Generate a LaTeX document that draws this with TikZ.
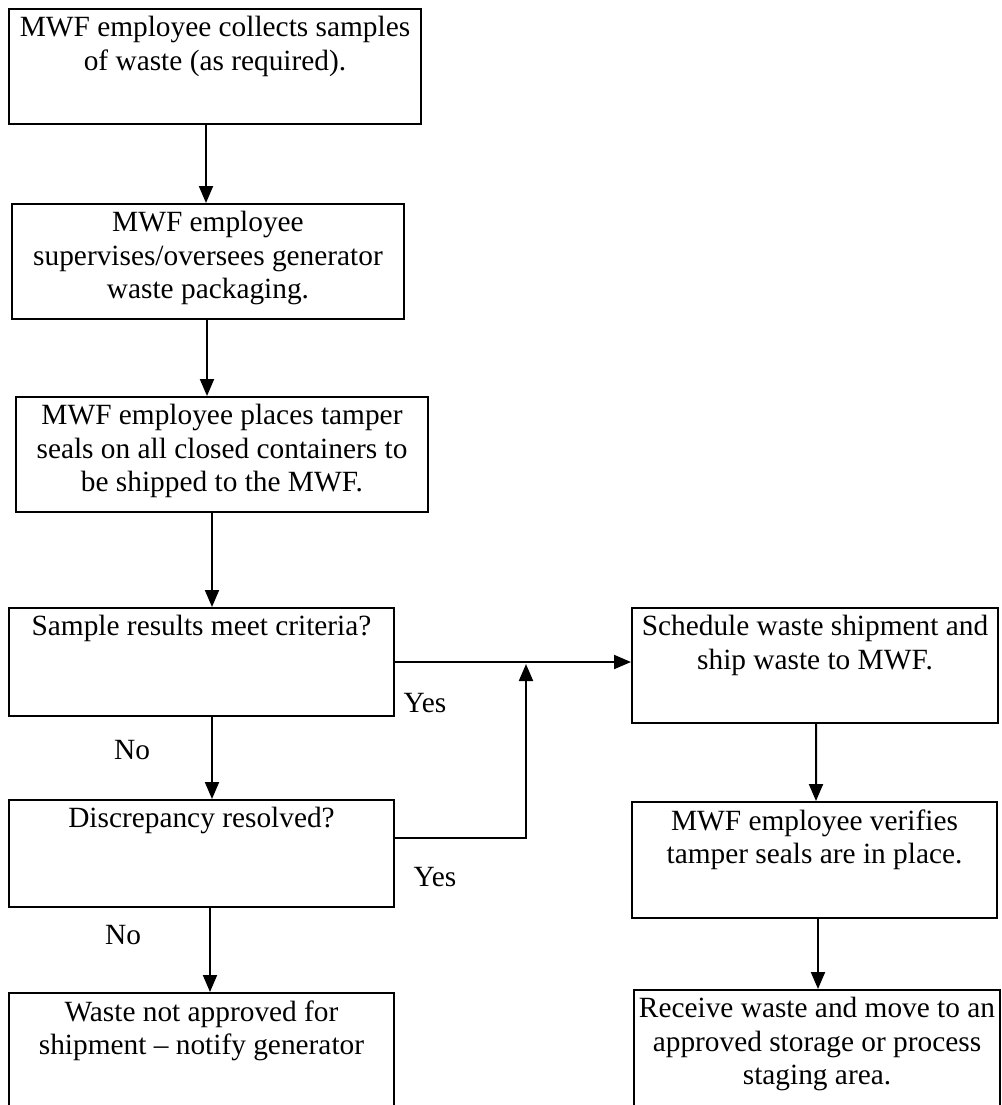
\documentclass[tikz,border=0pt]{standalone}
\usepackage{fontspec}
\setmainfont{Liberation Serif}
\usetikzlibrary{arrows.meta}

\begin{document}
\begin{tikzpicture}[line width=0.04cm,
  >={Triangle[length=0.34cm,width=0.28cm]},
  box/.style={draw, minimum width=7.70cm, minimum height=2.30cm, inner sep=0pt},
  txt/.style={anchor=north, align=center, inner sep=0pt, font=\fontsize{16.7}{19}\selectfont},
  lbl/.style={inner sep=0pt, font=\fontsize{16.7}{19}\selectfont}]
\useasboundingbox (0,0) rectangle (20.04,-22.10);
\clip (0,0) rectangle (20.04,-22.10);

% left column
\node[box,minimum width=8.24cm] (collect) at (4.30,-1.33) {};
\node[txt] (collecttxt) at ([yshift=-0.15cm]collect.north) {MWF employee collects samples\\of waste (as required).};
\node[box,minimum width=7.84cm] (supervise) at (4.16,-5.23) {};
\node[txt] (supervisetxt) at ([yshift=-0.15cm]supervise.north) {MWF employee\\supervises/oversees generator\\waste packaging.};
\node[box,minimum width=8.24cm] (seal) at (4.44,-9.09) {};
\node[txt] (sealtxt) at ([yshift=-0.15cm]seal.north) {MWF employee places tamper\\seals on all closed containers to\\be shipped to the MWF.};
\node[box,minimum height=2.16cm] (criteria) at (4.03,-13.24) {};
\node[txt] (criteriatxt) at ([yshift=-0.15cm]criteria.north) {Sample results meet criteria?};
\node[box,minimum height=2.14cm] (resolve) at (4.03,-17.07) {};
\node[txt] (resolvetxt) at ([yshift=-0.15cm]resolve.north) {Discrepancy resolved?};
\node[box,minimum height=2.44cm] (reject) at (4.03,-21.08) {};
\node[txt] (rejecttxt) at ([yshift=-0.15cm]reject.north) {Waste not approved for\\shipment -- notify generator};

% right column
\node[box,minimum width=7.32cm] (schedule) at (16.30,-13.31) {};
\node[txt] (scheduletxt) at ([yshift=-0.15cm]schedule.north) {Schedule waste shipment and\\ship waste to MWF.};
\node[box,minimum width=7.30cm,minimum height=2.32cm] (verify) at (16.29,-17.20) {};
\node[txt] (verifytxt) at ([yshift=-0.15cm]verify.north) {MWF employee verifies\\tamper seals are in place.};
\node[box,minimum width=7.32cm,minimum height=2.50cm] (receive) at (16.34,-21.05) {};
\node[txt] (receivetxt) at ([yshift=-0.15cm]receive.north) {Receive waste and move to an\\approved storage or process\\staging area.};

\draw[->] ([xshift=-0.18cm]collect.south) -- ([xshift=-0.04cm]supervise.north);
\draw[->] ([xshift=-0.02cm]supervise.south) -- ([xshift=-0.30cm]seal.north);
\draw[->] ([xshift=-0.20cm]seal.south) -- ([xshift=0.21cm]criteria.north);
\draw[->] ([xshift=0.21cm]criteria.south) -- ([xshift=0.21cm]resolve.north);
\draw[->] ([xshift=0.17cm]resolve.south) -- ([xshift=0.17cm]reject.north);
\draw[->] ([xshift=0.02cm]schedule.south) -- ([xshift=0.03cm]verify.north);
\draw[->] ([xshift=0.07cm]verify.south) -- ([xshift=0.02cm]receive.north);

\draw[->] (criteria.east) -- (criteria.east -| schedule.west);
\coordinate (merge) at (10.52,-13.28);
\draw[->] ([yshift=0.31cm]resolve.east) -| (merge);

\node[lbl] (yes1) at (8.50,-14.06) {Yes};
\node[lbl] (yes2) at (8.70,-17.54) {Yes};
\node[lbl] (no1) at (2.64,-15.00) {No};
\node[lbl] (no2) at (2.46,-18.70) {No};
\end{tikzpicture}
\end{document}
